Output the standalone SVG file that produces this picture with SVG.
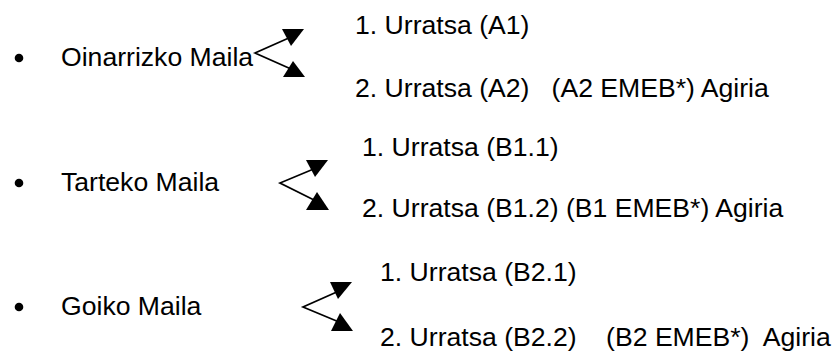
<svg xmlns="http://www.w3.org/2000/svg" width="839" height="352" viewBox="0 0 839 352">
<style>
text{font-family:"Liberation Sans",Arial,sans-serif;font-size:26.6px;fill:#000}
.ln{stroke:#000;stroke-width:1.7;fill:none}
.ah{fill:#000}
</style>
<rect width="839" height="352" fill="#fff"/>
<g id="level1">
<circle cx="19" cy="58" r="4.3"/>
<text x="61" y="66">Oinarrizko Maila</text>
</g>
<g id="a1"><text x="355" y="34">1. Urratsa (A1)</text></g>
<g id="a2"><text x="355" y="97" xml:space="preserve">2. Urratsa (A2)   (A2 EMEB*) Agiria</text></g>
<g id="level2">
<circle cx="19" cy="183" r="4.3"/>
<text x="61" y="191">Tarteko Maila</text>
</g>
<g id="b11"><text x="362" y="156">1. Urratsa (B1.1)</text></g>
<g id="b12"><text x="362" y="217">2. Urratsa (B1.2) (B1 EMEB*) Agiria</text></g>
<g id="level3">
<circle cx="19" cy="307" r="4.3"/>
<text x="61" y="315">Goiko Maila</text>
</g>
<g id="b21"><text x="380" y="281">1. Urratsa (B2.1)</text></g>
<g id="b22"><text x="380" y="346" xml:space="preserve">2. Urratsa (B2.2)    (B2 EMEB*)  Agiria</text></g>
<g id="connectors">
<polyline class="ln" points="291,37 255,53 291,69"/>
<polygon class="ah" points="282,29 304,29 291,46"/>
<polygon class="ah" points="293,61 283,77 305,77"/>
<polyline class="ln" points="316,168 280,183 316,201"/>
<polygon class="ah" points="306,160 328,160 315,177"/>
<polygon class="ah" points="317,192 306,210 329,210"/>
<polyline class="ln" points="339,291 303,307 339,322"/>
<polygon class="ah" points="330,282 352,282 338,299"/>
<polygon class="ah" points="340,313 331,331 353,331"/>
</g>
</svg>
